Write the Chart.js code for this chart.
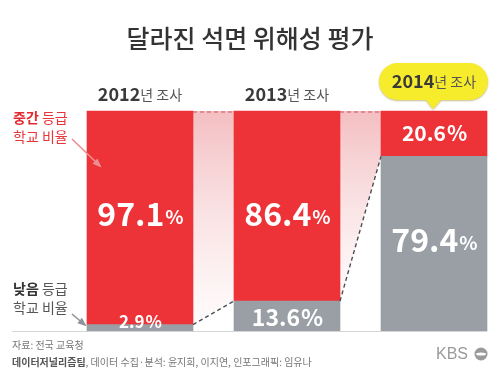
<!DOCTYPE html>
<html>
<head>
<meta charset="utf-8">
<script src="https://cdn.jsdelivr.net/npm/chart.js@4/dist/chart.umd.min.js"></script>
<style>
html,body{margin:0;padding:0;background:#fff;}
#wrap{width:500px;height:375px;position:relative;}
</style>
</head>
<body>
<div id="wrap"><canvas id="c" width="500" height="375"></canvas></div>
<script>
const categories = ['2012년 조사', '2013년 조사', '2014년 조사'];
const middleShare = [97.1, 86.4, 20.6];
const lowShare = [2.9, 13.6, 79.4];
const title = '달라진 석면 위해성 평가';
const sourceLine = '자료: 전국 교육청';
const creditBold = '데이터저널리즘팀';
const creditRest = ', 데이터 수집·분석: 윤지희, 이지연, 인포그래픽: 임유나';

const RED = '#ee3338';
const GRAY = '#9a9fa5';
const FONT = '"Noto Sans CJK KR", "Noto Sans", sans-serif';

function fmt(v){ return v.toFixed(1); }

const deco = {
  id: 'deco',
  beforeDatasetsDraw(chart){
    const ctx = chart.ctx;
    const y = chart.scales.y;
    const redMeta = chart.getDatasetMeta(1);
    const lowMeta = chart.getDatasetMeta(0);
    const top = y.getPixelForValue(100);
    ctx.save();
    for (let i = 0; i < categories.length - 1; i++) {
      const a = redMeta.data[i], b = redMeta.data[i+1];
      const xa = a.x + a.width/2, xb = b.x - b.width/2;
      const ya = lowMeta.data[i].y;
      const yb = (i + 1 === categories.length - 1) ? redMeta.data[i+1].base : lowMeta.data[i+1].y;
      const g = ctx.createLinearGradient(0, top, 0, Math.max(ya, yb));
      g.addColorStop(0, 'rgba(236,150,155,0.62)');
      g.addColorStop(1, 'rgba(245,200,203,0.08)');
      ctx.fillStyle = g;
      ctx.beginPath();
      ctx.moveTo(xa, top); ctx.lineTo(xb, top); ctx.lineTo(xb, yb); ctx.lineTo(xa, ya); ctx.closePath();
      ctx.fill();
    }
    ctx.restore();
  },
  afterDatasetsDraw(chart){
    const ctx = chart.ctx;
    const y = chart.scales.y;
    const redMeta = chart.getDatasetMeta(1);
    const lowMeta = chart.getDatasetMeta(0);
    const top = y.getPixelForValue(100);
    const bottom = y.getPixelForValue(0);
    ctx.save();
    ctx.strokeStyle = '#d6d6d6'; ctx.lineWidth = 1;
    ctx.beginPath(); ctx.moveTo(12, bottom + 0.5); ctx.lineTo(redMeta.data[2].x + redMeta.data[2].width/2, bottom + 0.5); ctx.stroke();
    for (let i = 0; i < categories.length - 1; i++) {
      const a = redMeta.data[i], b = redMeta.data[i+1];
      const xa = a.x + a.width/2, xb = b.x - b.width/2;
      const ya = lowMeta.data[i].y;
      const yb = (i + 1 === categories.length - 1) ? redMeta.data[i+1].base : lowMeta.data[i+1].y;
      ctx.setLineDash([4, 3]);
      ctx.strokeStyle = '#c9595c'; ctx.lineWidth = 1.2;
      ctx.beginPath(); ctx.moveTo(xa, top + 1); ctx.lineTo(xb, top + 1); ctx.stroke();
      ctx.strokeStyle = '#4a4f57'; ctx.lineWidth = 1.4;
      ctx.beginPath(); ctx.moveTo(xa, ya); ctx.lineTo(xb, yb); ctx.stroke();
    }
    ctx.setLineDash([]);
    ctx.fillStyle = '#fff';
    ctx.textBaseline = 'middle';
    const drawVal = (x, yy, v, big, small) => {
      const num = fmt(v);
      ctx.font = 'bold ' + big + 'px ' + FONT;
      const w1 = ctx.measureText(num).width;
      ctx.font = 'bold ' + small + 'px ' + FONT;
      const w2 = ctx.measureText('%').width;
      const sx = x - (w1 + w2)/2;
      ctx.textAlign = 'left';
      ctx.font = 'bold ' + big + 'px ' + FONT;
      ctx.fillText(num, sx, yy);
      ctx.font = 'bold ' + small + 'px ' + FONT;
      ctx.fillText('%', sx + w1 + 1, yy + (big - small) * 0.22);
    };
    redMeta.data.forEach((el, i) => {
      const v = middleShare[i];
      if (v > 50) drawVal(el.x, 214, v, 32, 19);
      else drawVal(el.x, (el.y + el.base)/2 - 1, v, 21, 21);
    });
    lowMeta.data.forEach((el, i) => {
      const v = lowShare[i];
      if (v > 50) drawVal(el.x, (el.y + el.base)/2 - 4, v, 32, 19);
      else if (v > 10) drawVal(el.x, (el.y + el.base)/2 + 1, v, 23, 23);
      else drawVal(el.x, el.y - 3, v, 17, 17);
    });
    ctx.restore();
  },
  afterDraw(chart){
    const ctx = chart.ctx;
    const redMeta = chart.getDatasetMeta(1);
    ctx.save();
    ctx.fillStyle = '#333';
    ctx.textAlign = 'center'; ctx.textBaseline = 'middle';
    ctx.font = '500 25px ' + FONT;
    ctx.fillText(title, 250, 38);
    redMeta.data.forEach((el, i) => {
      const lab = categories[i];
      const yr = lab.slice(0, 4), rest = lab.slice(4);
      const cy = (i === categories.length - 1) ? 81 : 94;
      if (i === categories.length - 1) {
        const bx = el.x - 55, bw = 109, by = 63, bh = 37, r = 18.5;
        ctx.save();
        ctx.shadowColor = 'rgba(120,110,0,0.45)'; ctx.shadowBlur = 2; ctx.shadowOffsetY = 1;
        ctx.fillStyle = '#f7ec2b';
        ctx.beginPath();
        ctx.moveTo(bx + r, by);
        ctx.lineTo(bx + bw - r, by);
        ctx.arc(bx + bw - r, by + r, r, -Math.PI/2, Math.PI/2);
        ctx.lineTo(el.x + 7, by + bh);
        ctx.lineTo(el.x - 1, by + bh + 9);
        ctx.lineTo(el.x - 8, by + bh);
        ctx.lineTo(bx + r, by + bh);
        ctx.arc(bx + r, by + r, r, Math.PI/2, Math.PI*1.5);
        ctx.closePath();
        ctx.fill();
        ctx.restore();
      }
      ctx.font = 'bold 18px ' + FONT;
      const w1 = ctx.measureText(yr).width;
      ctx.font = '14px ' + FONT;
      const w2 = ctx.measureText(rest).width;
      const sx = el.x - (w1 + w2)/2;
      ctx.textAlign = 'left';
      ctx.fillStyle = '#3a3a3a';
      ctx.font = 'bold 18px ' + FONT;
      ctx.fillText(yr, sx, cy);
      ctx.fillStyle = '#555';
      ctx.font = '14px ' + FONT;
      ctx.fillText(rest, sx + w1, cy + 1);
    });
    ctx.textAlign = 'left'; ctx.textBaseline = 'middle';
    const ann = (y1, y2, boldWord, color, boldColor) => {
      ctx.font = 'bold 14px ' + FONT;
      ctx.fillStyle = boldColor;
      ctx.fillText(boldWord, 13, y1);
      const w = ctx.measureText(boldWord + ' ').width;
      ctx.font = '14px ' + FONT;
      ctx.fillStyle = color;
      ctx.fillText('등급', 13 + w, y1);
      ctx.fillText('학교 비율', 13, y2);
    };
    ann(118, 137, '중간', '#e8353b', '#e22a31');
    ann(289, 308, '낮음', '#555', '#333');
    const arrow = (x1, y1, x2, y2, col) => {
      ctx.strokeStyle = col; ctx.fillStyle = col; ctx.lineWidth = 1.6;
      ctx.beginPath(); ctx.moveTo(x1, y1); ctx.lineTo(x2, y2); ctx.stroke();
      const a = Math.atan2(y2 - y1, x2 - x1);
      ctx.beginPath();
      ctx.moveTo(x2 + 2*Math.cos(a), y2 + 2*Math.sin(a));
      ctx.lineTo(x2 - 7*Math.cos(a) + 3.5*Math.sin(a), y2 - 7*Math.sin(a) - 3.5*Math.cos(a));
      ctx.lineTo(x2 - 7*Math.cos(a) - 3.5*Math.sin(a), y2 - 7*Math.sin(a) + 3.5*Math.cos(a));
      ctx.closePath(); ctx.fill();
    };
    arrow(72, 139, 100, 166, '#ec8f93');
    arrow(72, 314, 85, 325, '#8e949a');
    ctx.fillStyle = '#777';
    ctx.font = '10px ' + FONT;
    ctx.fillText(sourceLine, 12, 345);
    ctx.font = 'bold 10px ' + FONT;
    ctx.fillStyle = '#555';
    ctx.fillText(creditBold, 12, 362);
    const wb = ctx.measureText(creditBold).width;
    ctx.font = '10px ' + FONT;
    ctx.fillStyle = '#777';
    ctx.fillText(creditRest, 12 + wb, 362);
    ctx.fillStyle = '#9a9a9a';
    ctx.font = '16px "Liberation Sans", sans-serif';
    ctx.fillText('KBS', 436, 355);
    ctx.beginPath(); ctx.arc(481, 354, 6.5, 0, Math.PI*2); ctx.fill();
    ctx.fillStyle = '#fff';
    ctx.beginPath(); ctx.ellipse(481, 354, 5, 1.6, 0, 0, Math.PI*2); ctx.fill();
    ctx.restore();
  }
};

new Chart(document.getElementById('c'), {
  type: 'bar',
  data: {
    labels: categories,
    datasets: [
      { label: '낮음 등급 학교 비율', data: lowShare, backgroundColor: GRAY, barThickness: 106, clip: false, borderWidth: 0 },
      { label: '중간 등급 학교 비율', data: middleShare, backgroundColor: RED, barThickness: 106, clip: false, borderWidth: 0 }
    ]
  },
  options: {
    responsive: false,
    animation: false,
    events: [],
    layout: { padding: { left: 140, right: 66, top: 111, bottom: 44 } },
    plugins: { legend: { display: false }, tooltip: { enabled: false } },
    scales: {
      x: { stacked: true, display: false, offset: false },
      y: { stacked: true, display: false, min: 0, max: 100 }
    }
  },
  plugins: [deco]
});
</script>
</body>
</html>
